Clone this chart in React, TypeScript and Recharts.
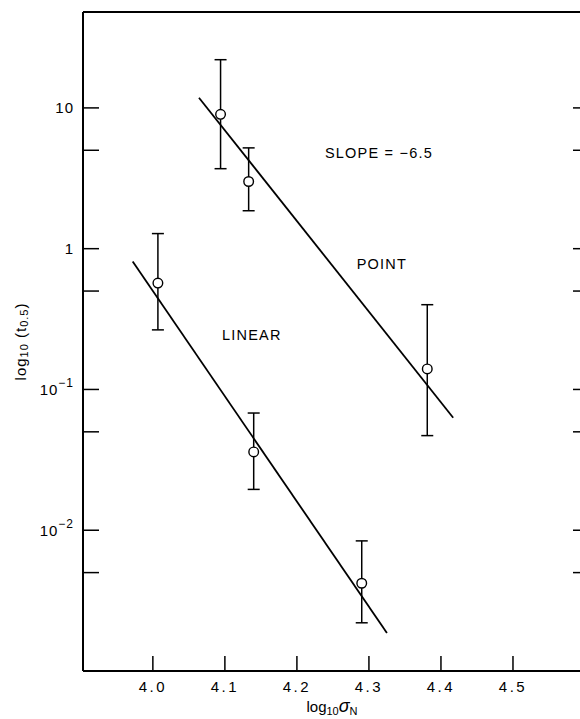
import React from "react";
import {
  ComposedChart,
  Scatter,
  Line,
  XAxis,
  YAxis,
  ErrorBar,
  ReferenceDot,
  Label,
} from "recharts";

// log10 sigma_N positions and t0.5 values
const pointSigma = [4.094, 4.133, 4.381];
const pointT = [9.0, 3.0, 0.14];
const pointTLow = [3.7, 1.86, 0.047];
const pointTHigh = [22, 5.2, 0.4];

const linearSigma = [4.007, 4.14, 4.29];
const linearT = [0.57, 0.036, 0.0042];
const linearTLow = [0.265, 0.0195, 0.0022];
const linearTHigh = [1.28, 0.068, 0.0084];

// fitted lines (end points)
const pointFitSigma = [4.064, 4.417];
const pointFitT = [11.8, 0.063];
const linearFitSigma = [3.972, 4.325];
const linearFitT = [0.81, 0.00186];

const xTicks = [4.0, 4.1, 4.2, 4.3, 4.4, 4.5];
const yTicks = [10, 5, 1, 0.5, 0.1, 0.05, 0.01, 0.005];
const yMajor: Record<string, [string, string]> = {
  "10": ["10", ""],
  "1": ["1", ""],
  "0.1": ["10", "\u22121"],
  "0.01": ["10", "\u22122"],
};

const annotations = [
  { x: 4.239, t: 4.8, text: "SLOPE = \u22126.5" },
  { x: 4.283, t: 0.78, text: "POINT" },
  { x: 4.096, t: 0.245, text: "LINEAR" },
];

const xDomain = [3.903, 4.6];
const yDomain = [0.001, 48];

const rows = (xs: number[], ts: number[], lo?: number[], hi?: number[]) =>
  xs.map((x, i) => ({
    x,
    t: ts[i],
    err: lo && hi ? [ts[i] - lo[i], hi[i] - ts[i]] : undefined,
  }));

const pointRows = rows(pointSigma, pointT, pointTLow, pointTHigh);
const linearRows = rows(linearSigma, linearT, linearTLow, linearTHigh);
const pointFit = rows(pointFitSigma, pointFitT);
const linearFit = rows(linearFitSigma, linearFitT);

const FONT = "'Liberation Sans', Arial, sans-serif";
const axisStyle = { stroke: "#000", strokeWidth: 2 };
const tickStyle = { stroke: "#000", strokeWidth: 1.5 };

const Hollow = (p: any) => (
  <circle cx={p.cx} cy={p.cy} r={4.8} fill="#fff" stroke="#000" strokeWidth={1.4} />
);
const Nothing = () => <g />;

const YTick = (p: any) => {
  const lab = yMajor[String(p.payload.value)];
  if (!lab) return <g />;
  return (
    <text x={p.x} y={p.y} textAnchor="end" dominantBaseline="central" fontFamily={FONT} fontSize={15} letterSpacing={1}>
      {lab[0]}
      {lab[1] && (
        <tspan dy={-6} fontSize={12}>
          {lab[1]}
        </tspan>
      )}
    </text>
  );
};

const XTitle = (p: any) => {
  const vb = p.viewBox;
  return (
    <text x={vb.x + vb.width / 2 - 2} y={vb.y + 41} textAnchor="middle" fontFamily={FONT} fontSize={15}>
      log
      <tspan dy={3} fontSize={11}>10</tspan>
      <tspan dy={-3} fontSize={18} fontStyle="italic">σ</tspan>
      <tspan dy={3} fontSize={11}>N</tspan>
    </text>
  );
};

const YTitle = (p: any) => {
  const vb = p.viewBox;
  const cx = 20;
  const cy = vb.y + vb.height / 2;
  return (
    <text x={cx} y={cy} textAnchor="middle" dominantBaseline="central" transform={`rotate(-90 ${cx} ${cy})`} fontFamily={FONT} fontSize={15} letterSpacing={1}>
      log
      <tspan dy={4} fontSize={11}>10</tspan>
      <tspan dy={-4}> (t</tspan>
      <tspan dy={4} fontSize={11}>0.5</tspan>
      <tspan dy={-4}>)</tspan>
    </text>
  );
};

const NoteLabel = (text: string) => (p: any) => {
  const vb = p.viewBox;
  return (
    <text x={vb.x} y={vb.y} dominantBaseline="central" fontFamily={FONT} fontSize={14.5} letterSpacing={1.2}>
      {text}
    </text>
  );
};

export default function App() {
  return (
    <div style={{ position: "absolute", left: 0, top: 0, width: 580, height: 719, overflow: "hidden", background: "#fff" }}>
      <ComposedChart width={600} height={719} margin={{ top: 0, right: 0, bottom: 0, left: 0 }}>
        <XAxis
          type="number"
          dataKey="x"
          domain={xDomain}
          ticks={xTicks}
          allowDataOverflow
          height={48}
          tickSize={-15}
          tickMargin={25}
          axisLine={axisStyle}
          tickLine={tickStyle}
          tick={{ fill: "#000", fontSize: 15, fontFamily: FONT, letterSpacing: 2.5 }}
          tickFormatter={(v: number) => v.toFixed(1)}
        >
          <Label content={XTitle} />
        </XAxis>
        <XAxis
          xAxisId="top"
          orientation="top"
          type="number"
          domain={xDomain}
          ticks={xTicks}
          allowDataOverflow
          height={12}
          tickSize={-12}
          axisLine={axisStyle}
          tickLine={tickStyle}
          tickFormatter={() => ""}
        />
        <YAxis
          type="number"
          dataKey="t"
          scale="log"
          domain={yDomain}
          ticks={yTicks}
          allowDataOverflow
          width={83}
          tickSize={-16}
          tickMargin={25}
          axisLine={axisStyle}
          tickLine={tickStyle}
          tick={YTick}
        >
          <Label content={YTitle} />
        </YAxis>
        <YAxis
          yAxisId="right"
          orientation="right"
          type="number"
          scale="log"
          domain={yDomain}
          ticks={yTicks}
          allowDataOverflow
          width={15}
          tickSize={-12}
          axisLine={axisStyle}
          tickLine={tickStyle}
          tickFormatter={() => ""}
        />

        <Line data={pointFit} dataKey="t" stroke="#000" strokeWidth={1.8} dot={false} isAnimationActive={false} />
        <Line data={linearFit} dataKey="t" stroke="#000" strokeWidth={1.8} dot={false} isAnimationActive={false} />

        <Scatter data={pointRows} dataKey="t" shape={Nothing} isAnimationActive={false}>
          <ErrorBar dataKey="err" direction="y" width={6} stroke="#000" strokeWidth={1.5} />
        </Scatter>
        <Scatter data={linearRows} dataKey="t" shape={Nothing} isAnimationActive={false}>
          <ErrorBar dataKey="err" direction="y" width={6} stroke="#000" strokeWidth={1.5} />
        </Scatter>
        <Scatter data={pointRows} dataKey="t" shape={Hollow} isAnimationActive={false} />
        <Scatter data={linearRows} dataKey="t" shape={Hollow} isAnimationActive={false} />

        {annotations.map((a) => (
          <ReferenceDot key={a.text} x={a.x} y={a.t} r={0} fill="none" stroke="none" label={{ content: NoteLabel(a.text) }} />
        ))}
      </ComposedChart>
    </div>
  );
}
